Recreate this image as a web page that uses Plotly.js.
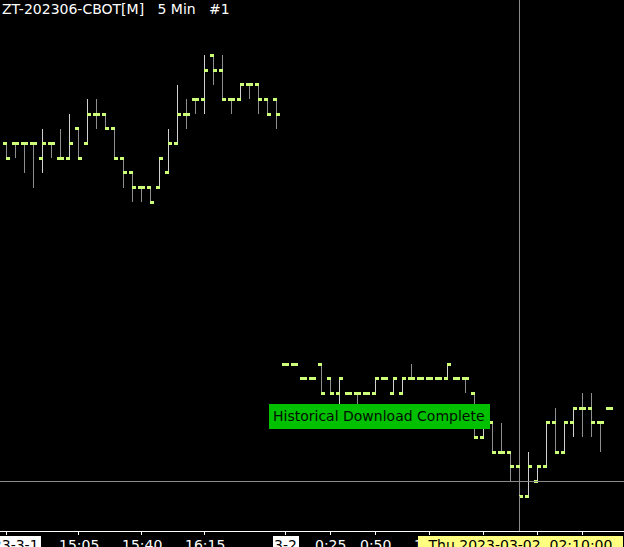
<!DOCTYPE html>
<html><head><meta charset="utf-8">
<script src="https://cdn.plot.ly/plotly-3.0.1.min.js"></script>
<style>
html,body{margin:0;padding:0;background:#000;overflow:hidden}
#chart{width:624px;height:547px}
#chart path{shape-rendering:crispEdges}
#chart rect{shape-rendering:crispEdges}
</style></head><body><div id="chart"></div>
<script>
// Prices in minimum ticks above an arbitrary base (the chart shows no price scale)
const openTk  = [24,24,24,24,23,24,23,23,25,24,26,26,25,23,22,21,21,21,22,24,26,27,27,30,29,27,27,28,28,27,27,
                 9,9,8,8,9,8,7,7,7,7,7,8,7,7,8,8,8,8,8,8,8,7,4,5,3,3,2,0,1,2,5,3,5,6,6,5,6];
const highTk  = [24,24,24,24,25,24,25,26,25,27,27,26,25,23,22,21,21,23,25,28,27,27,30,30,30,27,28,28,28,27,27,
                 9,9,8,8,9,8,8,7,7,7,8,8,8,8,9,8,8,8,9,8,8,7,5,5,5,3,3,3,2,5,6,5,6,7,7,5,6];
const lowTk   = [23,23,22,21,22,23,23,23,23,24,25,25,23,21,20,20,20,21,22,24,25,26,26,28,27,26,27,27,26,26,25,
                 9,9,8,8,7,7,6,7,6,7,7,8,7,7,8,8,8,8,8,8,7,4,4,3,3,1,0,0,1,2,3,3,4,4,4,3,6];
const closeTk = [23,24,24,24,24,24,23,24,23,26,26,25,23,22,21,21,20,23,24,26,26,27,29,29,27,27,28,28,27,26,26,
                 9,9,8,8,7,7,8,7,7,7,8,8,8,8,8,8,8,8,9,8,8,4,5,3,3,2,0,2,2,5,3,5,6,6,5,5,6];

// x-axis tick marks and the labels that are visible (bar index -> text)
const tickBars = [0, 8, 15, 22, 31, 36, 41, 47, 53, 59, 64];
const timeBars = [8, 15, 22, 36, 41, 47, 69];
const timeText = ['15:05','15:40','16:15','0:25','0:50','1:20','3:10'];
const dateBars = [0, 31];
const dateText = ['2023-3-1','3-2'];

const chartTitle = 'ZT-202306-CBOT[M]\u00a0\u00a0\u00a05 Min\u00a0\u00a0\u00a0#1';
const statusMessage = 'Historical Download Complete';
const cursorBar = 57;
const cursorLevel = 1;
const cursorLabel = 'Thu 2023-03-02\u00a0\u00a002:10:00';

const GREEN = '#ccff77';
const xRange = [-6.5/9, -6.5/9 + 624/9];
const yRange = [-2.361, 33.762];

const wUpX=[], wUpY=[], wDnX=[], wDnY=[], oX=[], oY=[], cX=[], cY=[];
for (let i = 0; i < openTk.length; i++) {
  if (highTk[i] !== lowTk[i]) {
    if (closeTk[i] > openTk[i]) { wUpX.push(i, i, null); wUpY.push(lowTk[i], highTk[i], null); }
    else { wDnX.push(i, i, null); wDnY.push(lowTk[i], highTk[i], null); }
  }
  oX.push(i - 3.5/9, i + 0.5/9, null); oY.push(openTk[i], openTk[i], null);
  cX.push(i - 0.5/9, i + 3.5/9, null); cY.push(closeTk[i], closeTk[i], null);
}
const seg = (x, y, color, w) => ({type:'scatter', mode:'lines', x, y, hoverinfo:'skip',
  line:{color, width:w}, showlegend:false, connectgaps:false});
const data = [
  seg(wDnX, wDnY, '#8e8e8e', 1),
  seg(wUpX, wUpY, '#cfcfcf', 1),
  seg(oX, oY, GREEN, 3),
  seg(cX, cY, GREEN, 3)
];

const FONT = 'DejaVu Sans';
const annotations = [];
annotations.push({xref:'paper', yref:'paper', x:0, y:1, xanchor:'left', yanchor:'top', xshift:1,
  text:chartTitle, showarrow:false, borderpad:0, font:{family:FONT, size:14, color:'#ffffff'}});
timeBars.forEach((b, k) => annotations.push({xref:'x', yref:'paper', x:b, y:0, xanchor:'center', yanchor:'top',
  yshift:-4, text:timeText[k], showarrow:false, borderpad:1, font:{family:FONT, size:14, color:'#ffffff'}}));
dateBars.forEach((b, k) => annotations.push({xref:'x', yref:'paper', x:b, y:0, xanchor:'center', yanchor:'top',
  yshift:-4, text:dateText[k], showarrow:false, borderpad:1, bgcolor:'#ffffff', font:{family:FONT, size:14, color:'#000000'}}));
annotations.push({xref:'x', yref:'paper', x:cursorBar, y:0, xanchor:'center', yanchor:'top', yshift:-4,
  text:cursorLabel, showarrow:false, borderpad:1, width:202, bgcolor:'#ffff80', font:{family:FONT, size:14, color:'#000000'}});
annotations.push({xref:'paper', yref:'paper', x:378.5/624, y:1 - 415.5/531, xanchor:'center', yanchor:'middle',
  text:statusMessage, showarrow:false, borderpad:4, bgcolor:'#00c000', font:{family:FONT, size:14, color:'#001000'}});

const CROSS = '#8a8a8a';
const shapes = [
  {type:'line', xref:'x', yref:'y', x0:cursorBar, x1:cursorBar, y0:highTk[cursorBar], y1:yRange[1], line:{color:CROSS, width:1}, layer:'above'},
  {type:'line', xref:'x', yref:'y', x0:cursorBar, x1:cursorBar, y0:yRange[0], y1:lowTk[cursorBar], line:{color:CROSS, width:1}, layer:'above'},
  {type:'line', xref:'paper', yref:'y', x0:0, x1:1, y0:cursorLevel, y1:cursorLevel, line:{color:CROSS, width:1}, layer:'above'}
];

const layout = {
  width:624, height:547,
  margin:{l:0, r:0, t:0, b:16, pad:0},
  paper_bgcolor:'#000000', plot_bgcolor:'#000000',
  showlegend:false, hovermode:false,
  xaxis:{range:xRange, showgrid:false, zeroline:false, showline:true, linecolor:'#ffffff', linewidth:1,
    ticks:'outside', ticklen:3, tickcolor:'#ffffff', tickwidth:1, tickmode:'array',
    tickvals:tickBars, showticklabels:false, fixedrange:true},
  yaxis:{range:yRange, visible:false, showgrid:false, zeroline:false, fixedrange:true},
  annotations, shapes
};
Plotly.newPlot('chart', data, layout, {staticPlot:true, displayModeBar:false});
</script></body></html>
